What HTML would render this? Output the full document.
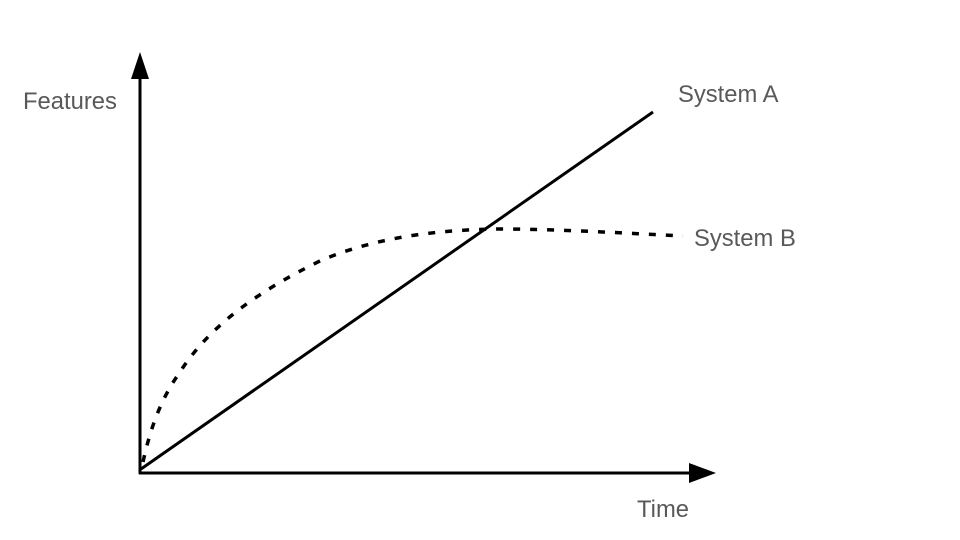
<!DOCTYPE html>
<html><head><style>
html,body{margin:0;padding:0;background:#fff;}
svg{display:block}
text{font-family:"Liberation Sans",sans-serif;font-size:23.8px;fill:#595959}
</style></head><body>
<svg width="960" height="540" viewBox="0 0 960 540" xmlns="http://www.w3.org/2000/svg">
<line x1="140" y1="474" x2="140" y2="76" stroke="#000" stroke-width="3"/>
<polygon points="140,52 131,79 149,79" fill="#000"/>
<line x1="139" y1="473" x2="692" y2="473" stroke="#000" stroke-width="3"/>
<polygon points="716,473 689,463 689,483" fill="#000"/>
<line x1="141" y1="469" x2="653" y2="112" stroke="#000" stroke-width="3"/>
<path d="M143,462 C150,430 160,400 180,372 C210,325 260,290 322,260 C380,236 440,230 497,229 C560,229 620,233 683,236" fill="none" stroke="#000" stroke-width="3.5" stroke-dasharray="7,10"/>
<text x="23" y="109">Features</text>
<text x="678" y="102">System A</text>
<text x="694" y="246">System B</text>
<text x="637" y="517">Time</text>
</svg>
</body></html>
